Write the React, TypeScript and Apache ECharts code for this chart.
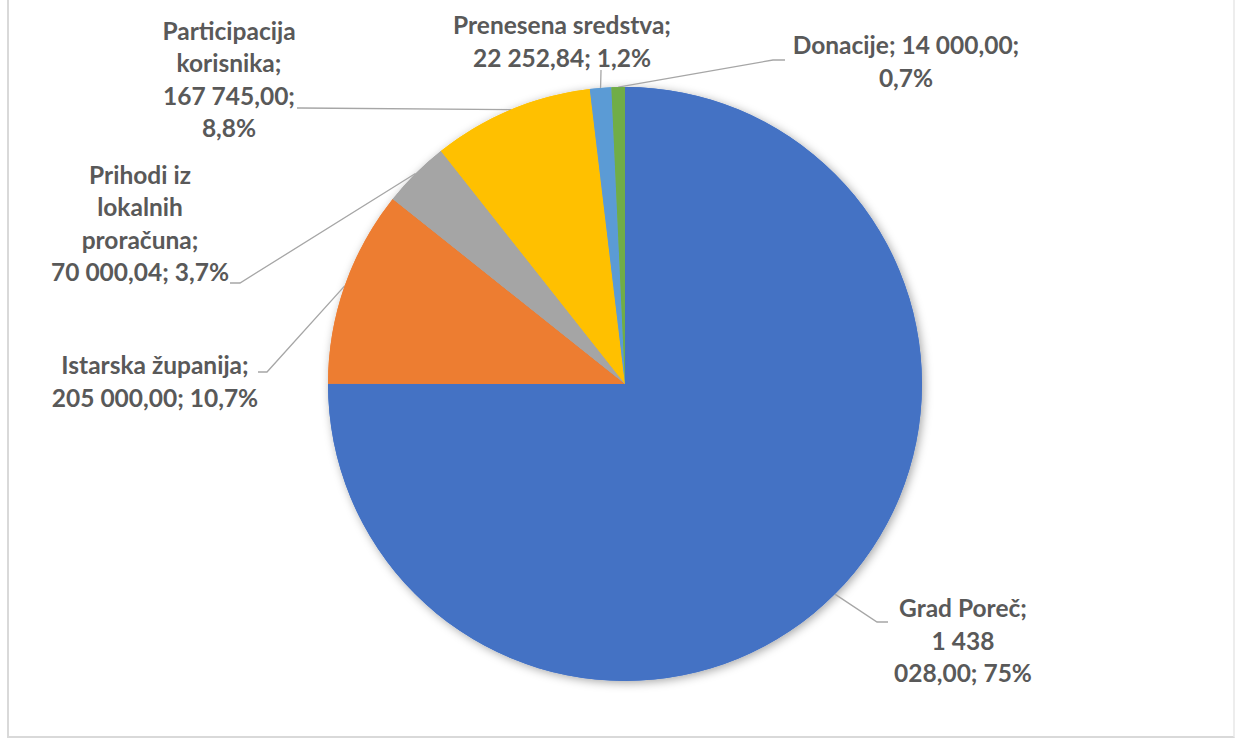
import React, { useEffect, useRef } from "react";
import * as echarts from "echarts";

const categories = [
  "Grad Poreč",
  "Istarska županija",
  "Prihodi iz lokalnih proračuna",
  "Participacija korisnika",
  "Prenesena sredstva",
  "Donacije",
];
const values = [1438028.0, 205000.0, 70000.04, 167745.0, 22252.84, 14000.0];
const colors = ["#4472C4", "#ED7D31", "#A5A5A5", "#FFC000", "#5B9BD5", "#70AD47"];
// words per line for each label
const wrapWords = [[2, 2, 2], [2, 3], [2, 1, 1, 3], [1, 1, 2, 1], [2, 3], [3, 1]];

// label placement (center of text block) and leader line elbows
const labelPos = [
  { x: 963, y: 640, line: [[877, 622], [888, 622]] },
  { x: 155, y: 381, line: [[267, 372], [258, 372]] },
  { x: 140, y: 223, line: [[240, 283], [230, 283]] },
  { x: 229, y: 79, line: [[300, 108], [297, 108]] },
  { x: 562, y: 41, line: [[601, 71], [601, 70]] },
  { x: 906, y: 61, line: [[773, 60], [785, 60]] },
];

const total = values.reduce((a, b) => a + b, 0);

function fmtNum(v: number): string {
  const [i, d] = v.toFixed(2).split(".");
  const withSep = i.replace(/\B(?=(\d{3})+(?!\d))/g, " ");
  return withSep + "," + d;
}
function fmtPct(v: number): string {
  const p = Math.round((v / total) * 1000) / 10;
  const s = Number.isInteger(p) ? p.toFixed(0) : p.toFixed(1);
  return s.replace(".", ",") + "%";
}
function labelText(idx: number): string {
  const full = `${categories[idx]}; ${fmtNum(values[idx])}; ${fmtPct(values[idx])}`;
  const words = full.split(" ");
  const lines: string[] = [];
  let k = 0;
  for (const n of wrapWords[idx]) {
    lines.push(words.slice(k, k + n).join(" "));
    k += n;
  }
  if (k < words.length) lines.push(words.slice(k).join(" "));
  return lines.join("\n");
}

const CX = 625;
const CY = 384;
const R = 297;

export default function App() {
  const ref = useRef<HTMLDivElement>(null);
  useEffect(() => {
    if (!ref.current) return;
    const chart = echarts.init(ref.current, undefined, { renderer: "svg" });
    const data = categories.map((name, i) => ({
      name,
      value: values[i],
      itemStyle: { color: colors[i] },
    }));
    chart.setOption({
      animation: false,
      backgroundColor: "#ffffff",
      series: [
        {
          type: "pie",
          silent: true,
          center: [CX, CY],
          radius: R,
          startAngle: 90,
          z: 1,
          label: { show: false },
          labelLine: { show: false },
          itemStyle: {
            shadowBlur: 10,
            shadowColor: "rgba(0,0,0,0.35)",
            shadowOffsetX: 2,
            shadowOffsetY: 2,
          },
          data,
        },
        {
          type: "pie",
          center: [CX, CY],
          radius: R,
          startAngle: 90,
          z: 2,
          avoidLabelOverlap: false,
          label: {
            show: true,
            position: "outside",
            formatter: (p: any) => labelText(p.dataIndex),
            fontFamily: "Lato",
            fontWeight: "bold",
            fontSize: 24.5,
            lineHeight: 32.5,
            color: "#595959",
            align: "center",
          },
          labelLine: {
            show: true,
            lineStyle: { color: "#A6A6A6", width: 1.3 },
          },
          labelLayout: (params: any) => {
            const i = params.dataIndex;
            const pos = labelPos[i];
            const mid = (() => {
              let acc = 0;
              for (let j = 0; j < i; j++) acc += values[j];
              const a = ((acc + values[i] / 2) / total) * Math.PI * 2;
              return [CX + R * Math.sin(a), CY - R * Math.cos(a)];
            })();
            const start =
              params.labelLinePoints && params.labelLinePoints[0]
                ? params.labelLinePoints[0]
                : mid;
            return {
              x: pos.x,
              y: pos.y,
              align: "center",
              verticalAlign: "middle",
              labelLinePoints: [start, pos.line[0], pos.line[1]],
            };
          },
          data,
        },
      ],
    });
    return () => chart.dispose();
  }, []);
  return (
    <div style={{ position: "absolute", left: 0, top: 0, width: 1239, height: 742 }}>
      <div ref={ref} style={{ position: "absolute", left: 0, top: 0, width: 1239, height: 742 }} />
      <div
        style={{
          position: "absolute",
          left: 7,
          top: -4,
          width: 1228,
          height: 742,
          borderLeft: "2px solid #D9D9D9",
          borderRight: "2px solid #EDEDED",
          borderBottom: "2px solid #D9D9D9",
          pointerEvents: "none",
          boxSizing: "border-box",
        }}
      />
    </div>
  );
}
